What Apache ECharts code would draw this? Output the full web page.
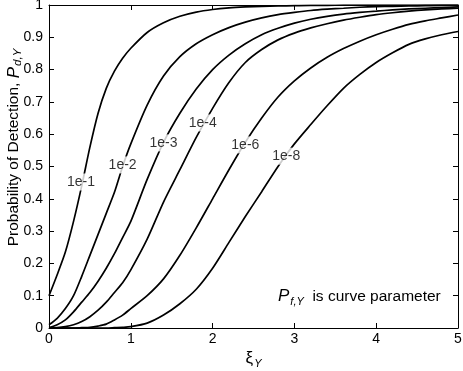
<!DOCTYPE html>
<html>
<head>
<meta charset="utf-8">
<script src="https://cdn.jsdelivr.net/npm/echarts@6/dist/echarts.min.js"></script>
<style>
html,body{margin:0;padding:0;background:#fff;}
#c{width:463px;height:371px;}
</style>
</head>
<body>
<div id="c"></div>
<script>
// ---- data ----
const xi = [0,0.1,0.2,0.3,0.4,0.5,0.6,0.7,0.8,0.9,1.0,1.2,1.4,1.6,1.8,2.0,2.2,2.4,2.6,2.8,3.0,3.2,3.4,3.6,3.8,4.0,4.2,4.4,4.6,4.8,5.0];
const pd_1e1 = [0.10,0.165,0.235,0.33,0.44,0.56,0.665,0.742,0.795,0.835,0.866,0.915,0.945,0.965,0.978,0.986,0.991,0.994,0.996,0.997,0.998,0.999,0.999,0.9995,1,1,1,1,1,1,1];
const pd_1e2 = [0.01,0.03,0.06,0.10,0.16,0.225,0.29,0.355,0.42,0.50,0.57,0.69,0.78,0.84,0.88,0.908,0.93,0.947,0.96,0.97,0.977,0.983,0.987,0.99,0.993,0.995,0.996,0.997,0.998,0.999,0.999];
const pd_1e3 = [0.001,0.01,0.025,0.05,0.08,0.11,0.145,0.185,0.23,0.28,0.33,0.46,0.575,0.665,0.74,0.80,0.845,0.88,0.908,0.928,0.944,0.956,0.965,0.972,0.977,0.981,0.985,0.988,0.99,0.992,0.994];
const pd_1e4 = [0.0001,0.001,0.004,0.01,0.02,0.035,0.055,0.08,0.11,0.14,0.18,0.275,0.39,0.49,0.59,0.68,0.76,0.822,0.862,0.892,0.913,0.929,0.942,0.953,0.962,0.97,0.976,0.981,0.985,0.988,0.99];
const pd_1e6 = [0,0,0,0,0.001,0.002,0.006,0.012,0.025,0.04,0.06,0.10,0.152,0.225,0.31,0.40,0.49,0.575,0.65,0.715,0.765,0.805,0.838,0.865,0.888,0.908,0.925,0.94,0.951,0.96,0.969];
const pd_1e8 = [0,0,0,0,0,0,0,0,0.001,0.002,0.004,0.015,0.04,0.075,0.12,0.185,0.265,0.345,0.422,0.5,0.57,0.63,0.688,0.742,0.785,0.822,0.852,0.878,0.895,0.908,0.918];
const curves = [pd_1e1, pd_1e2, pd_1e3, pd_1e4, pd_1e6, pd_1e8];
// curve labels and where they sit on each curve
const labelNames = ['1e-1','1e-2','1e-3','1e-4','1e-6','1e-8'];
const labelXi = [0.39, 0.90, 1.40, 1.88, 2.40, 2.90];
const labelPd = [0.452, 0.505, 0.573, 0.635, 0.567, 0.532];
const xTicks = ['0','1','2','3','4','5'];
const yTicks = ['0','0.1','0.2','0.3','0.4','0.5','0.6','0.7','0.8','0.9','1'];

const FONT = "'Liberation Sans', Arial, Helvetica, sans-serif";
const chart = echarts.init(document.getElementById('c'), null, {renderer:'canvas'});

const lineSeries = curves.map((ys, i) => ({
  type: 'line',
  name: labelNames[i],
  data: xi.map((x, j) => [x, ys[j]]),
  showSymbol: false,
  symbol: 'none',
  smooth: 0.25,
  clip: true,
  lineStyle: {color: '#000', width: 1.7},
  z: 2,
  silent: true
}));

const labelSeries = {
  type: 'scatter',
  data: labelNames.map((n, i) => ({value: [labelXi[i], labelPd[i]], name: n})),
  symbolSize: 1,
  itemStyle: {color: 'rgba(0,0,0,0)'},
  z: 5,
  label: {
    show: true,
    position: 'inside',
    formatter: p => p.name,
    color: '#000',
    fontFamily: FONT,
    fontSize: 14,
    backgroundColor: '#fff',
    padding: [2, 1, 1, 1]
  },
  silent: true
};

function axisBase(extra) {
  return Object.assign({
    type: 'value',
    nameMoveOverlap: false,
    axisLine: {show: true, onZero: false, lineStyle: {color: '#000', width: 1}},
    axisTick: {show: true, inside: true, length: 5, lineStyle: {color: '#000', width: 1}},
    splitLine: {show: false}
  }, extra);
}

chart.setOption({
  animation: false,
  backgroundColor: '#fff',
  grid: {left: 49, right: 5, top: 5, bottom: 43, containLabel: false, outerBoundsMode: 'none'},
  xAxis: [
    axisBase({
      position: 'bottom', min: 0, max: 5, interval: 1,
      axisLabel: {color: '#000', fontFamily: FONT, fontSize: 14, margin: 4,
        formatter: v => xTicks[Math.round(v)]},
      name: '{xi|ξ}{sub|Y}',
      nameLocation: 'middle',
      nameGap: 20,
      nameTextStyle: {rich: {
        xi: {fontFamily: FONT, fontSize: 17, color: '#000'},
        sub: {fontFamily: FONT, fontSize: 11, fontStyle: 'italic', color: '#000', padding: [10, 0, 0, 1]}
      }}
    }),
    axisBase({
      position: 'top', min: 0, max: 5, interval: 1,
      axisLabel: {show: false}
    })
  ],
  yAxis: [
    axisBase({
      position: 'left', min: 0, max: 1, interval: 0.1,
      axisLabel: {color: '#000', fontFamily: FONT, fontSize: 14, margin: 6,
        formatter: v => yTicks[Math.round(v * 10)]},
      name: '{t|Probability of Detection, }{p|P}{sub|d,Y}',
      nameLocation: 'middle',
      nameGap: 25,
      nameRotate: 90,
      nameTextStyle: {
        padding: [0, 0, 0, 38],
        rich: {
          t: {fontFamily: FONT, fontSize: 15.5, color: '#000'},
          p: {fontFamily: FONT, fontSize: 17, fontStyle: 'italic', color: '#000'},
          sub: {fontFamily: FONT, fontSize: 11.5, fontStyle: 'italic', color: '#000', padding: [8, 0, 0, 1]}
        }
      }
    }),
    axisBase({
      position: 'right', min: 0, max: 1, interval: 0.1,
      axisLabel: {show: false}
    })
  ],
  graphic: [{
    type: 'text',
    left: 278,
    top: 288,
    style: {
      text: '{p|P}{sub|f,Y}{t|  is curve parameter}',
      rich: {
        p: {fontFamily: FONT, fontSize: 17, fontStyle: 'italic', fill: '#000'},
        sub: {fontFamily: FONT, fontSize: 11, fontStyle: 'italic', fill: '#000', padding: [10, 0, 0, 1]},
        t: {fontFamily: FONT, fontSize: 15.5, fill: '#000'}
      }
    },
    z: 10
  }],
  series: lineSeries.concat([labelSeries])
});
</script>
</body>
</html>
